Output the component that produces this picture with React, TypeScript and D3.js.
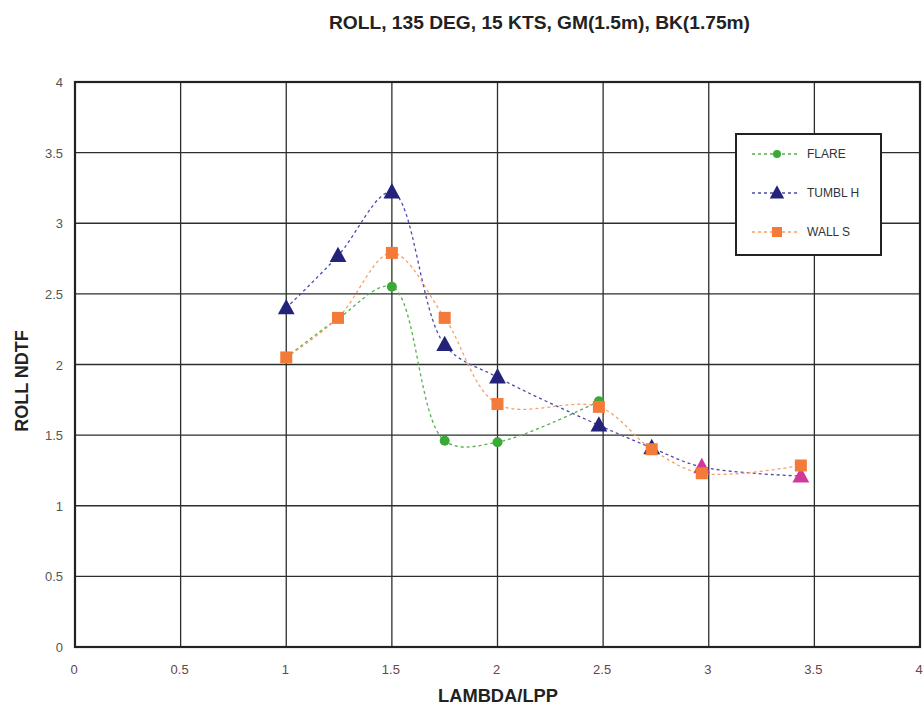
import React from "react";
import * as d3 from "d3";

const title = "ROLL, 135 DEG, 15 KTS, GM(1.5m), BK(1.75m)";
const xTicks = [0, 0.5, 1, 1.5, 2, 2.5, 3, 3.5, 4];
const yTicks = [0, 0.5, 1, 1.5, 2, 2.5, 3, 3.5, 4];

const flareX = [1, 1.25, 1.5, 1.75, 2, 2.48];
const flareY = [2.05, 2.33, 2.55, 1.46, 1.45, 1.74];
const tumblX = [1, 1.245, 1.5, 1.75, 2, 2.48, 2.73, 2.967, 3.436];
const tumblY = [2.4, 2.77, 3.22, 2.14, 1.91, 1.57, 1.41, 1.275, 1.21];
const wallX = [1, 1.245, 1.5, 1.75, 2, 2.48, 2.73, 2.967, 3.436];
const wallY = [2.05, 2.33, 2.79, 2.33, 1.72, 1.70, 1.40, 1.23, 1.285];
// index of points drawn in a different colour (magenta triangles)
const tumblMagenta = [7, 8];

const W = 924;
const H = 713;
const left = 75, right = 920, top = 82, bottom = 647;

export default function App() {
  const x = d3.scaleLinear().domain([0, 4]).range([left, right]);
  const y = d3.scaleLinear().domain([0, 4]).range([bottom, top]);
  const line = d3
    .line<[number, number]>()
    .x((d) => x(d[0]))
    .y((d) => y(d[1]))
    .curve(d3.curveCatmullRom.alpha(0.5));

  const flare: [number, number][] = flareX.map((v, i) => [v, flareY[i]]);
  const tumbl: [number, number][] = tumblX.map((v, i) => [v, tumblY[i]]);
  const wall: [number, number][] = wallX.map((v, i) => [v, wallY[i]]);

  const green = "#3aa935";
  const navy = "#23237a";
  const orange = "#f47a3a";
  const magenta = "#d0389a";
  const greenL = "#55b04d";
  const navyL = "#4a4ab0";
  const orangeL = "#f5a06a";

  const tri = (cx: number, cy: number, s: number) =>
    `M${cx},${cy - s * 0.65} L${cx + s * 0.6},${cy + s * 0.45} L${cx - s * 0.6},${cy + s * 0.45} Z`;

  const font = "'Liberation Sans', Arial, sans-serif";

  const legendItems = [
    { label: "FLARE", color: green, lc: greenL, kind: "c", y: 154 },
    { label: "TUMBL H", color: navy, lc: navyL, kind: "t", y: 193 },
    { label: "WALL S", color: orange, lc: orangeL, kind: "s", y: 232 },
  ];

  return (
    <svg
      width={W}
      height={H}
      style={{ position: "absolute", left: 0, top: 0, background: "#fff" }}
      fontFamily={font}
    >
      <rect x={0} y={0} width={W} height={H} fill="#fff" />
      <text x={539.5} y={29} textAnchor="middle" fontSize={19} fontWeight="bold" fill="#222"
        textLength={421} lengthAdjust="spacingAndGlyphs">
        {title}
      </text>
      {/* grid */}
      {xTicks.map((t) => (
        <line key={"gx" + t} x1={x(t)} x2={x(t)} y1={top} y2={bottom} stroke="#2a2f2a" strokeWidth={1.3} />
      ))}
      {yTicks.map((t) => (
        <line key={"gy" + t} x1={left} x2={right} y1={y(t)} y2={y(t)} stroke="#2a2f2a" strokeWidth={1.3} />
      ))}
      <rect x={left} y={top} width={right - left} height={bottom - top} fill="none" stroke="#222" strokeWidth={2.2} />
      {/* tick labels */}
      {xTicks.map((t) => (
        <text key={"tx" + t} x={x(t) - 1} y={674} textAnchor="middle" fontSize={13} fill="#6a4446">
          {String(t)}
        </text>
      ))}
      {yTicks.map((t) => (
        <text key={"ty" + t} x={63} y={y(t) + 5} textAnchor="end" fontSize={13} fill="#555">
          {String(t)}
        </text>
      ))}
      <text x={498} y={702} textAnchor="middle" fontSize={18} fontWeight="bold" fill="#222"
        textLength={120} lengthAdjust="spacingAndGlyphs">
        LAMBDA/LPP
      </text>
      <text
        transform={`translate(28,${381}) rotate(-90)`}
        textAnchor="middle"
        fontSize={18}
        fontWeight="bold"
        fill="#222"
      >
        ROLL NDTF
      </text>
      {/* lines */}
      <path d={line(flare) || ""} fill="none" stroke={greenL} strokeWidth={1.3} strokeDasharray="3,3" />
      <path d={line(tumbl) || ""} fill="none" stroke={navyL} strokeWidth={1.3} strokeDasharray="3,3" />
      <path d={line(wall) || ""} fill="none" stroke={orangeL} strokeWidth={1.3} strokeDasharray="3,3" />
      {/* markers */}
      {flare.map((d, i) => (
        <circle key={"f" + i} cx={x(d[0])} cy={y(d[1])} r={5} fill={green} />
      ))}
      {tumbl.map((d, i) => (
        <path key={"t" + i} d={tri(x(d[0]), y(d[1]), 14)} fill={tumblMagenta.includes(i) ? magenta : navy} />
      ))}
      {wall.map((d, i) => (
        <rect key={"w" + i} x={x(d[0]) - 6} y={y(d[1]) - 6} width={12} height={12} fill={orange} />
      ))}
      {/* legend */}
      <rect x={736} y={134} width={145} height={121} fill="#fff" stroke="#222" strokeWidth={2} />
      {legendItems.map((it) => (
        <g key={it.label}>
          <line x1={752} x2={800} y1={it.y} y2={it.y} stroke={it.lc} strokeWidth={1.3} strokeDasharray="3,3" />
          {it.kind === "c" && <circle cx={777} cy={it.y} r={4} fill={it.color} />}
          {it.kind === "t" && <path d={tri(777, it.y, 12)} fill={it.color} />}
          {it.kind === "s" && <rect x={772} y={it.y - 5} width={10} height={10} fill={it.color} />}
          <text x={807} y={it.y + 4} fontSize={12} fill="#333">
            {it.label}
          </text>
        </g>
      ))}
    </svg>
  );
}
